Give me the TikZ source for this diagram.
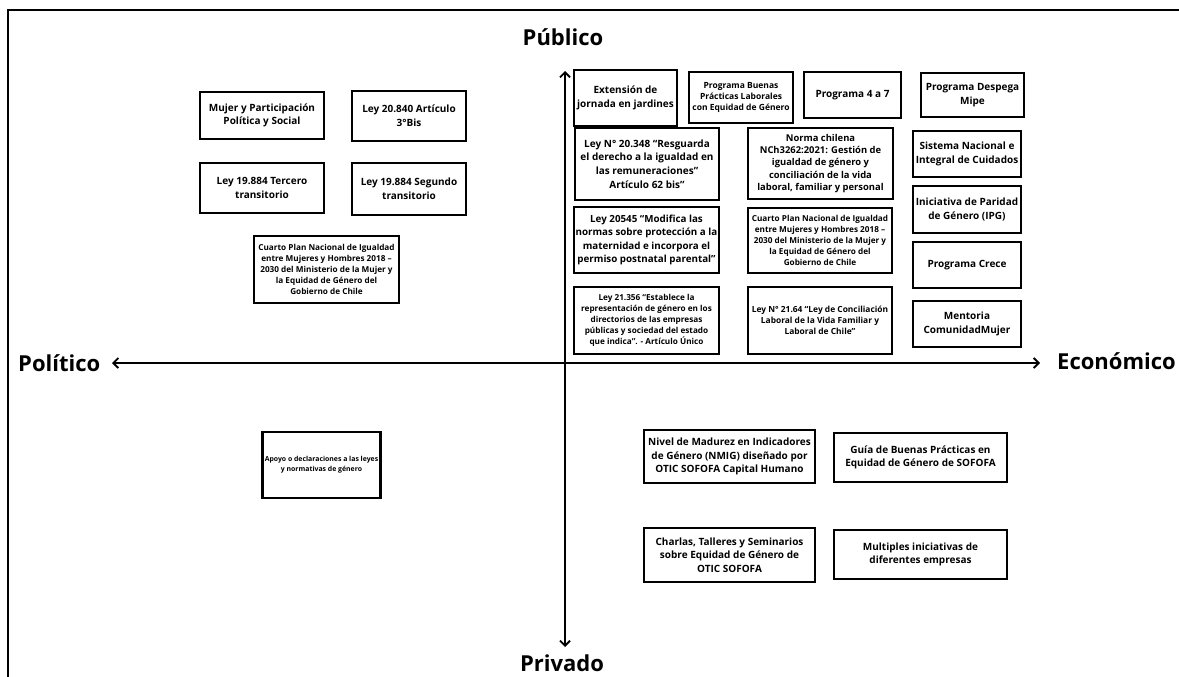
\documentclass[tikz,border=0pt]{standalone}
\usepackage{fontspec}
\setmainfont{Open Sans}
\usetikzlibrary{arrows.meta}

\tikzset{
  card/.style={draw, line width=2.6pt, align=center, inner sep=1pt,
               font=\bfseries\fontsize{10}{13.6}\selectfont},
  cardmid/.style={card, font=\bfseries\fontsize{9.4}{12.2}\selectfont},
  cardsmall/.style={card, font=\bfseries\fontsize{8.2}{11}\selectfont},
  cardtiny/.style={card, font=\bfseries\fontsize{6.9}{10}\selectfont},
  axisline/.style={line width=1.8pt, {Straight Barb[length=5pt,width=10pt,line width=1.8pt]}-{Straight Barb[length=5pt,width=10pt,line width=1.8pt]}},
  axislabel/.style={font=\bfseries\fontsize{22}{26}\selectfont, inner sep=0pt},
}

\begin{document}
\begin{tikzpicture}[x=1pt, y=-1pt]
\useasboundingbox (0,0) rectangle (1179,677);

% outer frame (top and left edges)
\draw[line width=2pt] (8,677) -- (8,10) -- (1179,10);

% axes
\coordinate (top) at (565,71);
\coordinate (bot) at (565,647);
\coordinate (lft) at (112,363);
\coordinate (rgt) at (1040,363);
\draw[axisline] (bot) -- (top);
\draw[axisline] (lft) -- (rgt);

\node[axislabel] (pub) at (563,37) {Público};
\node[axislabel] (priv) at (562,663) {Privado};
\node[axislabel, anchor=west] (pol) at (18,363) {Político};
\node[axislabel, anchor=west] (eco) at (1057,361) {Económico};

% político / público
\node[card, minimum width=124, minimum height=47] (mujer) at (262,115.5)
  {Mujer y Participación\\Política y Social};
\node[card, minimum width=114, minimum height=50] (l20840) at (409,116)
  {Ley 20.840 Artículo\\3°Bis};
\node[card, minimum width=124, minimum height=50] (l19884t) at (262,188)
  {Ley 19.884 Tercero\\transitorio};
\node[card, minimum width=114, minimum height=52] (l19884s) at (409,189)
  {Ley 19.884 Segundo\\transitorio};
\node[cardsmall, minimum width=145, minimum height=67] (cuartoL) at (326.5,269.5)
  {Cuarto Plan Nacional de Igualdad\\entre Mujeres y Hombres 2018 –\\2030 del Ministerio de la Mujer y\\la Equidad de Género del\\Gobierno de Chile};

% económico / público
\node[card, minimum width=103, minimum height=56] (extension) at (625.5,98)
  {Extensión de\\jornada en jardines};
\node[cardsmall, font=\bfseries\fontsize{8.5}{11}\selectfont, minimum width=104, minimum height=51] (buenas) at (741,97.5)
  {Programa Buenas\\Prácticas Laborales\\con Equidad de Género};
\node[card, minimum width=97, minimum height=46] (p47) at (852.5,95)
  {Programa 4 a 7};
\node[card, minimum width=103, minimum height=44] (despega) at (972.5,95)
  {Programa Despega\\Mipe};

\node[card, minimum width=144, minimum height=72] (l20348) at (647,164)
  {Ley N° 20.348 “Resguarda\\el derecho a la igualdad en\\las remuneraciones”\\Artículo 62 bis”};
\node[cardmid, minimum width=145, minimum height=71] (norma) at (820.5,163.5)
  {Norma chilena\\NCh3262:2021: Gestión de\\igualdad de género y\\conciliación de la vida\\laboral, familiar y personal};

\node[card, minimum width=108, minimum height=46] (sistema) at (967,154)
  {Sistema Nacional e\\Integral de Cuidados};
\node[card, minimum width=108, minimum height=47] (paridad) at (967,209.5)
  {Iniciativa de Paridad\\de Género (IPG)};
\node[card, minimum width=108, minimum height=46] (crece) at (967,265)
  {Programa Crece};
\node[card, minimum width=108, minimum height=46] (mentoria) at (967,324)
  {Mentoria\\ComunidadMujer};

\node[card, font=\bfseries\fontsize{9.8}{13.4}\selectfont, minimum width=145, minimum height=66] (l20545) at (646.5,240)
  {Ley 20545 “Modifica las\\normas sobre protección a la\\maternidad e incorpora el\\permiso postnatal parental”};
\node[cardsmall, minimum width=144, minimum height=65] (cuartoR) at (820,240.5)
  {Cuarto Plan Nacional de Igualdad\\entre Mujeres y Hombres 2018 –\\2030 del Ministerio de la Mujer y\\la Equidad de Género del\\Gobierno de Chile};

\node[cardsmall, minimum width=145, minimum height=67] (l21356) at (646.5,320.5)
  {Ley 21.356 “Establece la\\representación de género en los\\directorios de las empresas\\públicas y sociedad del estado\\que indica”. - Artículo Único};
\node[cardsmall, font=\bfseries\fontsize{8.4}{11.2}\selectfont, minimum width=144, minimum height=67] (l2164) at (820,320.5)
  {Ley N° 21.64 “Ley de Conciliación\\Laboral de la Vida Familiar y\\Laboral de Chile”};

% político / privado
\node[cardtiny, minimum width=118, minimum height=66] (apoyo) at (321.5,465)
  {Apoyo o declaraciones a las leyes\\y normativas de género};

% económico / privado
\node[card, minimum width=171, minimum height=53] (nivel) at (729.5,456.5)
  {Nivel de Madurez en Indicadores\\de Género (NMIG) diseñado por\\OTIC SOFOFA Capital Humano};
\node[card, minimum width=173, minimum height=49] (guia) at (920.5,457.5)
  {Guía de Buenas Prácticas en\\Equidad de Género de SOFOFA};
\node[card, minimum width=171, minimum height=54] (charlas) at (729.5,555)
  {Charlas, Talleres y Seminarios\\sobre Equidad de Género de\\OTIC SOFOFA};
\node[card, minimum width=173, minimum height=49] (multiples) at (920.5,554.5)
  {Multiples iniciativas de\\diferentes empresas};

\end{tikzpicture}
\end{document}
